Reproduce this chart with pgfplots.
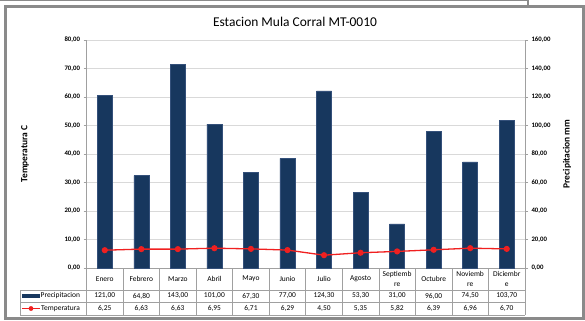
\documentclass[border=0pt]{standalone}
\usepackage{pgfplots}
\pgfplotsset{compat=1.18}
\usepackage{pgfplotstable}
\usepackage{fontspec}
\setmainfont{Carlito}

\definecolor{navy}{HTML}{17375E}
\definecolor{navyedge}{HTML}{34507A}
\definecolor{linered}{HTML}{F02020}
\definecolor{gridgray}{HTML}{D9D9D9}
\definecolor{axgray}{HTML}{A0A0A0}
\definecolor{framegray}{HTML}{8A8A8A}

% precipitacion (mm) y temperatura (C) por mes
\pgfplotstableread{
x prec temp
0 121.0 6.25
1 64.8 6.63
2 143.0 6.63
3 101.0 6.95
4 67.3 6.71
5 77.0 6.29
6 124.3 4.50
7 53.3 5.35
8 31.0 5.82
9 96.0 6.39
10 74.5 6.96
11 103.7 6.70
}\datos

\begin{document}
\begin{tikzpicture}[x=1bp,y=1bp]
\useasboundingbox (0,0) rectangle (585,320);
\fill[white] (0,0) rectangle (585,320);

% marco
\draw[framegray, line width=3bp] (5.5,1.5) rectangle (583.5,313);
\draw[framegray, line width=1.5bp] (0,319.3) -- (528,319.3);
\draw[framegray, line width=1.2bp] (528,313) -- (528,320);

\pgfplotsset{base/.style={
    scale only axis, width=438.5bp, height=228bp,
    at={(86.5bp,52bp)}, anchor=south west,
    xmin=-0.5, xmax=11.5, ymin=0,
    tick align=outside, major tick length=3bp,
    tick style={axgray, line width=0.6bp},
    axis line style={axgray, line width=0.6bp},
    yticklabel style={font=\bfseries\fontsize{6.8}{8}\selectfont},
    /pgf/number format/.cd, use comma, fixed, fixed zerofill, precision=2,
    assume math mode=true,
}}

% barras: precipitacion (eje derecho)
\begin{axis}[base,
    ymax=160, ytick={0,20,...,160},
    axis y line*=right, axis x line*=bottom,
    ymajorgrids, grid style={gridgray, line width=0.6bp},
    xtick={0,...,11}, xtick style={draw=none},
    xticklabels={Enero,Febrero,Marzo,Abril,Mayo,Junio,Julio,Agosto,
        {Septiemb\\re},Octubre,{Noviemb\\re},{Diciembr\\e}},
    xticklabel style={font=\fontsize{7.5}{9.5}\selectfont, align=center,
        anchor=center, yshift=-8bp},
]
\addplot[ybar, bar width=15bp, bar shift=0pt, fill=navy, draw=navyedge,
    line width=0.5bp] table[x=x, y=prec]{\datos};
\end{axis}

% linea: temperatura (eje izquierdo)
\begin{axis}[base,
    ymax=80, ytick={0,10,...,80},
    axis y line*=left, axis x line=none,
]
\addplot[linered, line width=1.3bp, mark=*, mark size=2.4bp,
    mark options={fill=linered, draw=linered}] table[x=x, y=temp]{\datos};
\end{axis}

% titulo y etiquetas de ejes
\node[font=\fontsize{13.5}{16}\selectfont] at (295,298) {Estacion Mula Corral MT-0010};
\node[font=\bfseries\fontsize{9.5}{11}\selectfont, rotate=90] at (25,166) {Temperatura C};
\node[font=\bfseries\fontsize{9.5}{11}\selectfont, rotate=90] at (567,166) {Precipitacion mm};

% tabla de datos
\def\cw{36.5417}
\pgfkeys{/pgf/number format/.cd, use comma, fixed, fixed zerofill, precision=2,
    assume math mode=true}
\draw[axgray, line width=0.6bp] (20,30) -- (525,30) (20,18) -- (525,18)
    (20,5) -- (525,5) (20,30) -- (20,5);
\foreach \i in {0,...,12} {
    \draw[axgray, line width=0.6bp] (86.5+\i*\cw,52) -- (86.5+\i*\cw,5);
}
\fill[navy] (22,21.8) rectangle (40,26.2);
\node[anchor=west, inner sep=0.5bp, font=\fontsize{7.5}{9}\selectfont] at (40,24) {Precipitacion};
\draw[linered, line width=1.3bp] (22,11.5) -- (40,11.5);
\fill[linered] (31,11.5) circle (2.4);
\node[anchor=west, inner sep=0.5bp, font=\fontsize{7.5}{9}\selectfont] at (40.5,11.5) {Temperatura};
\foreach \i in {0,...,11} {
    \pgfplotstablegetelem{\i}{prec}\of\datos
    \node[font=\fontsize{7.5}{9}\selectfont] at (86.5+\i*\cw+0.5*\cw,24)
        {\pgfmathprintnumber{\pgfplotsretval}};
    \pgfplotstablegetelem{\i}{temp}\of\datos
    \node[font=\fontsize{7.5}{9}\selectfont] at (86.5+\i*\cw+0.5*\cw,11.5)
        {\pgfmathprintnumber{\pgfplotsretval}};
}
\end{tikzpicture}
\end{document}
